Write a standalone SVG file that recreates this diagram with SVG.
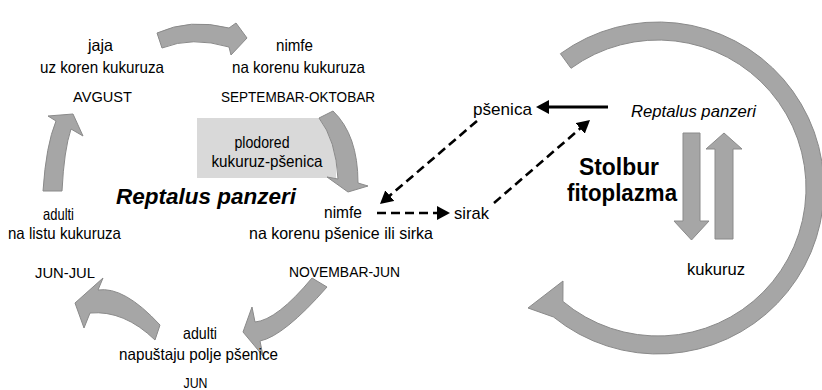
<svg xmlns="http://www.w3.org/2000/svg" width="822" height="390" viewBox="0 0 822 390">
<style>
.blk{fill:#a6a6a6;stroke:#8a8a8a;stroke-width:1;stroke-linejoin:round}
.t{font-family:"Liberation Sans",Arial,sans-serif;font-size:16.5px;fill:#000;text-anchor:middle}
.m{font-size:15.5px}
.r{font-size:17px}
.bi{font-weight:bold;font-style:italic;font-size:22px}
.b{font-weight:bold;font-size:23px}
.i{font-style:italic}
.dash{fill:none;stroke:#000;stroke-width:2.6;stroke-dasharray:9 5}
.solid{fill:none;stroke:#000;stroke-width:2.8}
</style>
<defs>
<marker id="ah" viewBox="0 0 13 14" markerWidth="13" markerHeight="14" refX="9" refY="7" orient="auto" markerUnits="userSpaceOnUse">
<path d="M0,0 L13,7 L0,14 Z" fill="#000"/>
</marker>
</defs>
<rect x="0" y="0" width="822" height="390" fill="#fff"/>

<g id="rotation-box">
<rect x="197" y="118" width="139" height="60" fill="#d9d9d9"/>
<text class="t" x="262" y="148" textLength="55" lengthAdjust="spacingAndGlyphs">plodored</text>
<text class="t" x="267" y="167" textLength="111" lengthAdjust="spacingAndGlyphs">kukuruz-pšenica</text>
</g>

<g id="cycle-arrows">
<path class="blk" d="M157,33 Q190,18 229,28 L236,23 L247,38 L231,55 L229,47 Q192,36 162,48 Z"/>
<path class="blk" d="M319,118 Q336,140 338,179 L327,177 L348,192 L368,186 L358,183 Q358,135 333,111 Z"/>
<path class="blk" d="M43,191 Q46,145 56,121 L48,116 L73,114 L83,136 L71,129 Q64,150 62,191 Z"/>
<path class="blk" d="M160,325 Q124,286 98,290 L103,278 L75,303 L84,328 L90,313 Q124,310 155,340 Z"/>
<path class="blk" d="M312,278 Q277,320 255,322 L252,307 L243,332 L263,356 L260,341 Q284,336 327,287 Z"/>
</g>

<g id="stage-eggs">
<text class="t" x="100.5" y="51" textLength="25" lengthAdjust="spacingAndGlyphs">jaja</text>
<text class="t" x="102" y="72.5" textLength="124" lengthAdjust="spacingAndGlyphs">uz koren kukuruza</text>
<text class="t m" x="102.5" y="101.5" textLength="59" lengthAdjust="spacingAndGlyphs">AVGUST</text>
</g>
<g id="stage-nymph-corn">
<text class="t" x="294.5" y="51" textLength="37" lengthAdjust="spacingAndGlyphs">nimfe</text>
<text class="t" x="298.5" y="72.5" textLength="133" lengthAdjust="spacingAndGlyphs">na korenu kukuruza</text>
<text class="t m" x="298" y="101.5" textLength="154" lengthAdjust="spacingAndGlyphs">SEPTEMBAR-OKTOBAR</text>
</g>
<g id="title">
<text class="t bi" x="206" y="204" textLength="180" lengthAdjust="spacingAndGlyphs">Reptalus panzeri</text>
</g>
<g id="stage-adults-leaf">
<text class="t" x="58.5" y="220" textLength="31" lengthAdjust="spacingAndGlyphs">adulti</text>
<text class="t" x="64.5" y="239" textLength="113" lengthAdjust="spacingAndGlyphs">na listu kukuruza</text>
<text class="t m" x="65" y="277.5" textLength="60" lengthAdjust="spacingAndGlyphs">JUN-JUL</text>
</g>
<g id="stage-nymph-wheat">
<text class="t" x="343" y="218" textLength="38" lengthAdjust="spacingAndGlyphs">nimfe</text>
<text class="t" x="341" y="239" textLength="184" lengthAdjust="spacingAndGlyphs">na korenu pšenice ili sirka</text>
<text class="t m" x="344.5" y="277" textLength="111" lengthAdjust="spacingAndGlyphs">NOVEMBAR-JUN</text>
</g>
<g id="stage-adults-leave">
<text class="t" x="200" y="339" textLength="34" lengthAdjust="spacingAndGlyphs">adulti</text>
<text class="t" x="198.5" y="360" textLength="159" lengthAdjust="spacingAndGlyphs">napuštaju polje pšenice</text>
<text class="t m" x="195.5" y="388" textLength="24" lengthAdjust="spacingAndGlyphs">JUN</text>
</g>

<g id="big-cycle">
<path class="blk" d="M560.4,53.7 A166,166 0 1 1 553.5,317 L528,308 L563,281 L562.9,301.4 A148,148 0 1 0 571,68.3 Z"/>
</g>

<g id="node-psenica"><text class="t r" x="502.5" y="115" textLength="59" lengthAdjust="spacingAndGlyphs">pšenica</text></g>
<g id="node-sirak"><text class="t r" x="471.5" y="219" textLength="35" lengthAdjust="spacingAndGlyphs">sirak</text></g>
<g id="node-reptalus"><text class="t r i" x="693.5" y="117" textLength="125" lengthAdjust="spacingAndGlyphs">Reptalus panzeri</text></g>
<g id="node-stolbur">
<text class="t b" x="619" y="175" textLength="80" lengthAdjust="spacingAndGlyphs">Stolbur</text>
<text class="t b" x="622" y="201" textLength="110" lengthAdjust="spacingAndGlyphs">fitoplazma</text>
</g>
<g id="node-kukuruz"><text class="t r" x="716" y="275" textLength="58" lengthAdjust="spacingAndGlyphs">kukuruz</text></g>

<g id="transmission-arrows">
<path class="blk" d="M683,133 L700,133 L700,221 L709,221 L691.5,240 L674,221 L683,221 Z"/>
<path class="blk" d="M715,239 L733,239 L733,149 L742,149 L724,133 L706,149 L715,149 Z"/>
</g>

<g id="connectors">
<line class="solid" x1="608" y1="107" x2="540" y2="107" marker-end="url(#ah)"/>
<line class="dash" x1="477" y1="121" x2="383" y2="201.5" marker-end="url(#ah)"/>
<line class="dash" x1="494" y1="203" x2="587" y2="122.6" marker-end="url(#ah)"/>
<line class="dash" x1="377" y1="213" x2="446" y2="213" marker-end="url(#ah)"/>
</g>
</svg>
